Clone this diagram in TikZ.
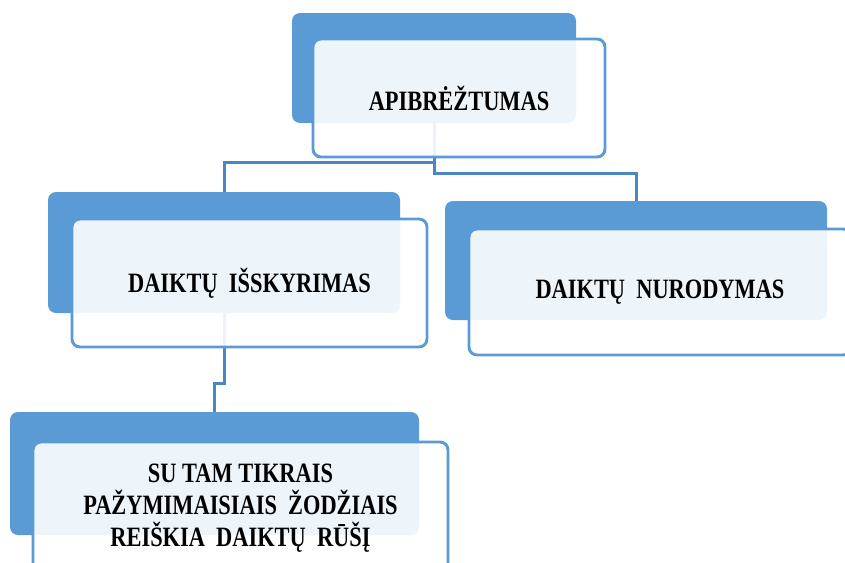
\documentclass[tikz,border=0pt]{standalone}
\usepackage{fontspec}
\newfontfamily\boxfont{Liberation Serif}[FakeStretch=0.8]
\definecolor{smartblue}{HTML}{5B9BD5}
\definecolor{linkblue}{HTML}{4A86C2}

\begin{document}
\begin{tikzpicture}[x=0.5pt, y=-0.5pt,
  back/.style = {shape=rectangle, rounded corners=4pt,
    fill=smartblue, draw=none},
  front/.style = {shape=rectangle, rounded corners=4pt,
    draw=smartblue, line width=1.45pt, align=center,
    fill=white, fill opacity=0.9, text opacity=1,
    font=\boxfont\bfseries\fontsize{14}{16}\selectfont},
  link/.style = {draw=linkblue, line width=1.5pt}]
  \useasboundingbox (0,0) rectangle (845,562);
  \clip (0,0) rectangle (845,562);
  % blue backs
  \node[back, minimum width=142pt, minimum height=55pt] (apibBack) at (434,68) {};
  \node[back, minimum width=176pt, minimum height=60.5pt] (isskBack) at (224,252.5) {};
  \node[back, minimum width=191pt, minimum height=59.5pt] (nurBack) at (636,260.5) {};
  \node[back, minimum width=204.5pt, minimum height=61.5pt] (rusBack) at (214.5,473.5) {};
  % connectors
  \draw[link] (apibBack.south) -- ++(0,39) -| (isskBack.north);
  \draw[link] (apibBack.south) -- ++(0,50) -| (nurBack.north);
  \draw[link] (isskBack.south) -- ++(0,70) -| (rusBack.north);
  % white fronts
  \node[front, minimum width=146pt, minimum height=59pt] (apib) at (459,98) {APIBRĖŽTUMAS};
  \node[front, minimum width=177.5pt, minimum height=64pt] (issk) at (249.5,283) {DAIKTŲ~ IŠSKYRIMAS};
  \node[front, minimum width=191pt, minimum height=63pt] (nur) at (660,292) {DAIKTŲ~ NURODYMAS};
  \node[front, minimum width=207.5pt, minimum height=66pt] (rus) at (240.5,508)
    {SU TAM TIKRAIS\\PAŽYMIMAISIAIS~ ŽODŽIAIS\\REIŠKIA~ DAIKTŲ~ RŪŠĮ};
\end{tikzpicture}
\end{document}
